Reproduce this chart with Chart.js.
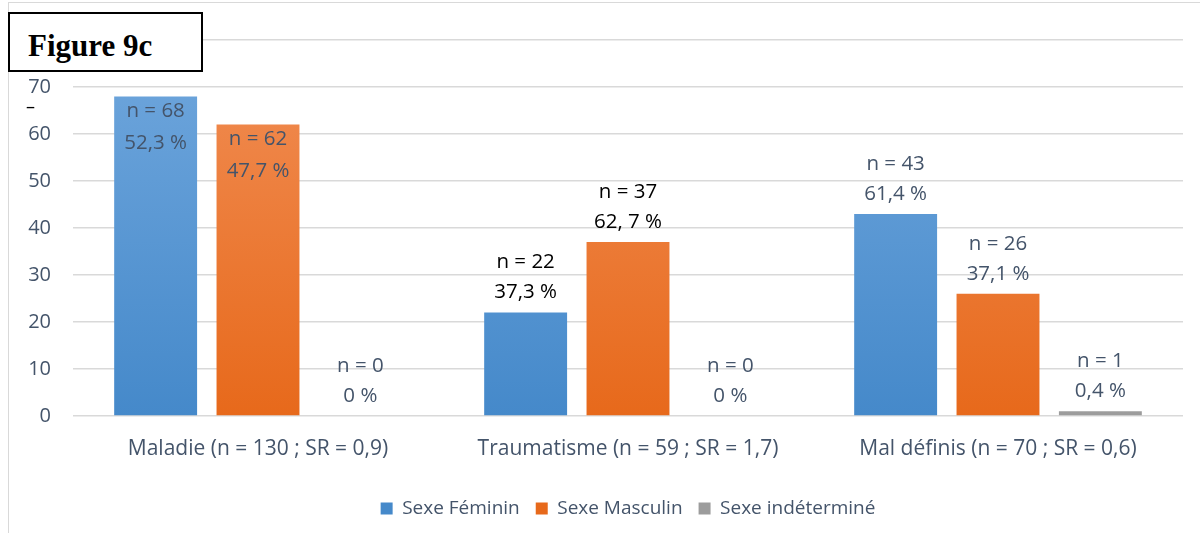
<!DOCTYPE html>
<html>
<head>
<meta charset="utf-8">
<script src="https://cdn.jsdelivr.net/npm/chart.js@4"></script>
<style>
  body { margin: 0; background: #fff; }
  #wrap { position: relative; width: 1200px; height: 533px; overflow: hidden; }
  #frame { position: absolute; left: 8px; top: 2px; width: 1300px; height: 600px; border: 1px solid #D9D9D9; box-sizing: border-box; }
  #title { position: absolute; left: 8px; top: 12px; width: 195px; height: 60px; border: 2px solid #000; background: #fff; box-sizing: border-box;
           font: bold 31px "Liberation Serif", "DejaVu Serif", serif; color: #000; padding: 14px 0 0 18px; }
  #dash { position: absolute; left: 26px; top: 94px; font: 18px "Open Sans", sans-serif; color: #000; }
  canvas { position: absolute; left: 0; top: 0; }
</style>
</head>
<body>
<div id="wrap">
  <div id="frame"></div>
  <canvas id="chart" width="1200" height="533"></canvas>
  <div id="title">Figure 9c</div>
  <div id="dash">–</div>
</div>
<script>
const categories = ['Maladie (n = 130 ; SR = 0,9)', 'Traumatisme (n = 59 ; SR = 1,7)', 'Mal définis (n = 70 ; SR = 0,6)'];
const seriesNames = ['Sexe Féminin', 'Sexe Masculin', 'Sexe indéterminé'];
const feminin = [68, 22, 43];
const masculin = [62, 37, 26];
const indetermine = [0, 0, 1];
const pctFeminin = ['52,3 %', '37,3 %', '61,4 %'];
const pctMasculin = ['47,7 %', '62, 7 %', '37,1 %'];
const pctIndetermine = ['0 %', '0 %', '0,4 %'];
const yTicks = [0, 10, 20, 30, 40, 50, 60, 70, 80];

const slate = '#44546A';
const labelColorsByCategory = [slate, '#000000', slate];
const fontFamily = '"Open Sans", Lato, sans-serif';

function gradient(top, bottom, solid) {
  return function (ctx) {
    const area = ctx.chart.chartArea;
    if (!area) return solid;
    const g = ctx.chart.ctx.createLinearGradient(0, area.top, 0, area.bottom);
    g.addColorStop(0, top);
    g.addColorStop(1, bottom);
    return g;
  };
}

const pctLabels = [pctFeminin, pctMasculin, pctIndetermine];

const barLabels = {
  id: 'barLabels',
  afterDatasetsDraw(chart) {
    const ctx = chart.ctx;
    ctx.save();
    ctx.font = '20.5px ' + fontFamily;
    ctx.textAlign = 'center';
    ctx.textBaseline = 'middle';
    chart.data.datasets.forEach((ds, di) => {
      const meta = chart.getDatasetMeta(di);
      meta.data.forEach((bar, i) => {
        const v = ds.data[i];
        const lines = ['n = ' + v, pctLabels[di][i]];
        ctx.fillStyle = (v > 0) ? labelColorsByCategory[i] : slate;
        let y1, y2;
        if (v >= 60) {
          y1 = bar.y + 15;
          y2 = bar.y + 47;
        } else {
          y1 = bar.y - 50;
          y2 = bar.y - 20;
        }
        ctx.fillText(lines[0], bar.x, y1);
        ctx.fillText(lines[1], bar.x, y2);
      });
    });
    ctx.restore();
  }
};

new Chart(document.getElementById('chart'), {
  type: 'bar',
  data: {
    labels: categories,
    datasets: [
      { label: seriesNames[0], data: feminin, backgroundColor: gradient('#70A7DD', '#4589CA', '#5B9BD5') },
      { label: seriesNames[1], data: masculin, backgroundColor: gradient('#F18E55', '#E7691B', '#ED7D31') },
      { label: seriesNames[2], data: indetermine, backgroundColor: gradient('#ABABAB', '#9C9C9C', '#A5A5A5') }
    ]
  },
  options: {
    responsive: false,
    animation: false,
    layout: { padding: { left: 8, right: 17, top: 40, bottom: 5 } },
    datasets: { bar: { categoryPercentage: 0.83, barPercentage: 0.81 } },
    scales: {
      x: {
        afterFit(scale) { scale.height = 67; },
        grid: { display: false },
        border: { display: false },
        ticks: { color: slate, font: { family: fontFamily, size: 21 }, padding: 12 }
      },
      y: {
        min: 0,
        max: 80,
        afterBuildTicks(scale) { scale.ticks = yTicks.map(v => ({ value: v })); },
        afterFit(scale) { scale.width = 65; },
        grid: { color: '#D9D9D9', lineWidth: 1.5, drawTicks: false },
        border: { display: false },
        ticks: { color: slate, font: { family: fontFamily, size: 20 }, padding: 22 }
      }
    },
    plugins: {
      legend: {
        position: 'bottom',
        fullSize: false,
        labels: {
          color: slate,
          font: { family: fontFamily, size: 19 },
          boxWidth: 12,
          boxHeight: 12,
          padding: 16
        }
      },
      tooltip: { enabled: false }
    }
  },
  plugins: [barLabels]
});
</script>
</body>
</html>
